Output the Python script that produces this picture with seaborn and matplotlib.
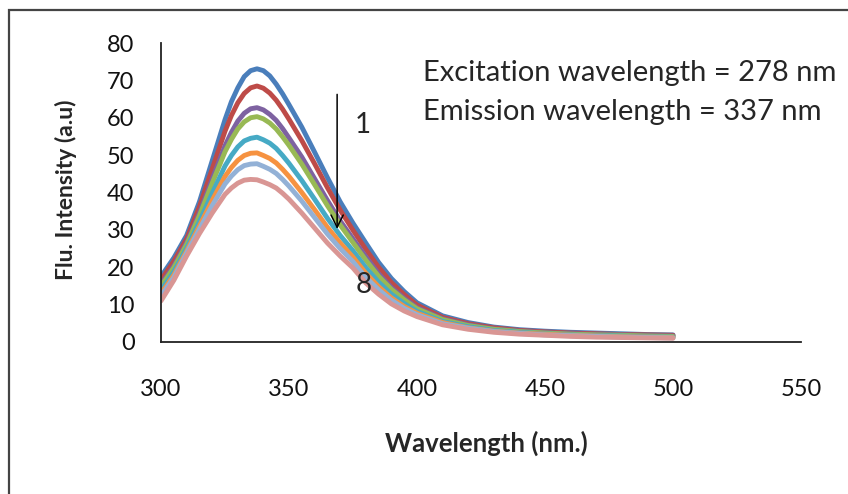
import numpy as np
import pandas as pd
import matplotlib
matplotlib.use('Agg')
import matplotlib.pyplot as plt
from matplotlib.patches import Rectangle
import seaborn as sns

# wavelengths (nm)
wavelength = [300, 305, 310, 315, 320, 325, 327.5, 330, 332.5, 335, 337.5, 340, 342.5, 345, 347.5,
              350, 355, 360, 365, 370, 375, 380, 385, 390, 395, 400,
              410, 420, 430, 440, 450, 460, 470, 480, 490, 500]

# fluorescence intensity of the 8 spectra (1 = top, 8 = bottom)
curve1 = [17.5, 22.5, 28.5, 37.5, 48.5, 59.5, 64.3, 68.0, 71.0, 72.6, 73.1, 72.6, 71.2, 69.0, 66.4,
          63.5, 57.5, 50.8, 44.0, 37.5, 31.8, 26.5, 21.3, 17.0, 13.5, 10.5,
          7.0, 5.2, 4.0, 3.3, 2.9, 2.6, 2.4, 2.2, 2.0, 1.9]
curve2 = [16.6, 21.6, 27.6, 36.2, 46.3, 56.4, 60.6, 64.0, 66.5, 68.0, 68.5, 67.9, 66.6, 64.7, 62.3,
          59.6, 53.9, 47.7, 41.3, 35.3, 29.9, 24.8, 20.0, 15.9, 12.7, 9.9,
          6.6, 4.9, 3.8, 3.1, 2.7, 2.4, 2.2, 2.0, 1.9, 1.8]
curve3 = [15.4, 20.4, 26.6, 34.5, 43.6, 52.5, 56.1, 59.1, 61.2, 62.4, 62.7, 62.1, 60.9, 59.3, 57.1,
          54.6, 49.5, 43.7, 37.9, 32.4, 27.6, 22.8, 18.3, 14.6, 11.7, 9.2,
          6.2, 4.6, 3.5, 2.9, 2.5, 2.2, 2.0, 1.9, 1.7, 1.6]
curve4 = [14.9, 19.9, 26.1, 33.8, 42.5, 50.9, 54.2, 57.0, 58.9, 60.0, 60.3, 59.7, 58.6, 57.0, 54.9,
          52.6, 47.6, 42.1, 36.5, 31.3, 26.6, 21.9, 17.6, 14.1, 11.3, 8.9,
          6.0, 4.4, 3.4, 2.8, 2.4, 2.1, 1.9, 1.8, 1.6, 1.5]
curve5 = [13.8, 18.8, 25.1, 32.2, 39.8, 47.1, 49.9, 52.2, 53.8, 54.5, 54.8, 54.1, 53.2, 51.8, 49.9,
          47.8, 43.2, 38.2, 33.1, 28.5, 24.4, 19.9, 16.0, 12.8, 10.3, 8.2,
          5.5, 4.1, 3.1, 2.6, 2.2, 1.9, 1.7, 1.6, 1.4, 1.3]
curve6 = [12.9, 17.9, 24.3, 31.0, 37.9, 44.3, 46.7, 48.6, 49.9, 50.5, 50.6, 49.9, 49.1, 47.9, 46.2,
          44.3, 40.0, 35.4, 30.7, 26.5, 22.7, 18.4, 14.8, 11.8, 9.5, 7.7,
          5.2, 3.8, 2.9, 2.4, 2.1, 1.8, 1.6, 1.4, 1.3, 1.2]
curve7 = [12.3, 17.3, 23.8, 30.2, 36.5, 42.3, 44.4, 46.1, 47.2, 47.6, 47.7, 47.0, 46.2, 45.1, 43.5,
          41.7, 37.7, 33.3, 28.9, 25.0, 21.5, 17.3, 14.0, 11.2, 9.0, 7.3,
          4.9, 3.7, 2.8, 2.3, 1.9, 1.7, 1.5, 1.3, 1.2, 1.1]
curve8 = [11.0, 16.5, 23.0, 29.0, 34.5, 39.5, 41.2, 42.5, 43.3, 43.5, 43.4, 42.8, 42.1, 41.2, 39.8,
          38.2, 34.5, 30.5, 26.5, 23.0, 19.8, 15.8, 12.8, 10.2, 8.3, 6.8,
          4.6, 3.4, 2.6, 2.1, 1.8, 1.5, 1.3, 1.2, 1.1, 1.0]

curve_names = ['1', '2', '3', '4', '5', '6', '7', '8']
colors = ['#4A7EBB', '#BE4B48', '#7E62A1', '#98B954', '#46AAC5', '#F69240', '#93B1D6', '#D99694']

y_ticks = [0, 10, 20, 30, 40, 50, 60, 70, 80]
x_ticks = [300, 350, 400, 450, 500, 550]

# long form table for seaborn
wide = pd.DataFrame({'Wavelength': wavelength})
for name, vals in zip(curve_names, [curve1, curve2, curve3, curve4, curve5, curve6, curve7, curve8]):
    wide[name] = vals
df = wide.melt(id_vars='Wavelength', var_name='Curve', value_name='Intensity')

sns.set_style('white')
plt.rcParams['font.family'] = ['Lato', 'DejaVu Sans']

W, H = 848, 494
fig = plt.figure(figsize=(W / 100, H / 100), dpi=100)
ax = fig.add_axes([161 / W, 1 - 342 / H, (801 - 161) / W, (342 - 43) / H])

sns.lineplot(data=df, x='Wavelength', y='Intensity', hue='Curve', hue_order=curve_names,
             palette=colors, linewidth=3.5, legend=False, ax=ax)

ax.set_xlim(300, 550)
ax.set_ylim(0, 80)
ax.set_xticks(x_ticks)
ax.set_yticks(y_ticks)
ax.set_xlabel('')
ax.set_ylabel('')
for s in ['top', 'right']:
    ax.spines[s].set_visible(False)
for s in ['left', 'bottom']:
    ax.spines[s].set_color('#222222')
    ax.spines[s].set_linewidth(1.3)
ax.tick_params(axis='both', direction='out', length=8, width=1.3, color='#222222',
               labelsize=17, labelcolor='#111111')
ax.tick_params(axis='y', pad=11)
ax.tick_params(axis='x', pad=19)
ax.patch.set_alpha(0)

# arrow and curve labels
ax.annotate('', xy=(368.8, 29.5), xytext=(368.8, 67),
            arrowprops=dict(arrowstyle='->', color='black', lw=1.1, mutation_scale=22))
ax.text(379, 58, '1', fontsize=20, ha='center', va='center')
ax.text(379, 15.2, '8', fontsize=20, ha='center', va='center')
ax.text(402.3, 72, 'Excitation wavelength = 278 nm', fontsize=21, ha='left', va='center')
ax.text(402.3, 61.5, 'Emission wavelength = 337 nm', fontsize=21, ha='left', va='center')

fig.text(486 / W, 1 - 443 / H, 'Wavelength (nm.)', fontsize=18.5, fontweight='bold',
         ha='center', va='center')
fig.text(66 / W, 1 - 190 / H, 'Flu. Intensity (a.u)', fontsize=16.5, fontweight='bold',
         ha='center', va='center', rotation=90)

# outer chart frame (runs off the right and bottom edges)
fig.patches.append(Rectangle((8.5 / W, -0.1), 1.0, 1 - 10.5 / H + 0.1, transform=fig.transFigure,
                             fill=False, edgecolor='#444444', linewidth=1.6))

fig.savefig('out.png', dpi=100)
